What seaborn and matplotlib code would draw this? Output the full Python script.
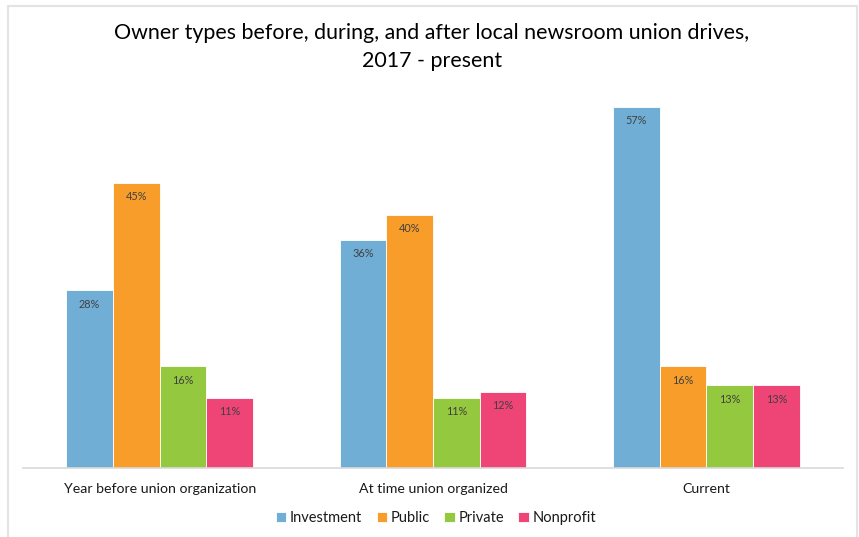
import matplotlib
matplotlib.use("Agg")
import matplotlib.pyplot as plt
import seaborn as sns
import pandas as pd
from matplotlib.lines import Line2D

categories = ["Year before union organization", "At time union organized", "Current"]
owner_types = ["Investment", "Public", "Private", "Nonprofit"]
investment = [28, 36, 57]
public = [45, 40, 16]
private = [16, 11, 13]
nonprofit = [11, 12, 13]
colors = ["#71AED6", "#F89D2A", "#94C83E", "#EF4476"]

rows = []
for name, vals in zip(owner_types, [investment, public, private, nonprofit]):
    for c, v in zip(categories, vals):
        rows.append({"category": c, "owner": name, "value": v})
df = pd.DataFrame(rows)

sns.set_theme(style="white")
plt.rcParams["font.family"] = ["Lato", "DejaVu Sans"]

fig = plt.figure(figsize=(8.59, 5.37), dpi=100)
ax = fig.add_axes([23/859, 69.5/537, 820/859, 379.5/537])

sns.barplot(data=df, x="category", y="value", hue="owner", order=categories,
            hue_order=owner_types, palette=colors, width=0.684, ax=ax,
            saturation=1, edgecolor="white", linewidth=0.6, errorbar=None)

ax.set_ylim(0, 60)
ax.set_yticks([])
ax.set_xlabel("")
ax.set_ylabel("")
for s in ["top", "right", "left"]:
    ax.spines[s].set_visible(False)
ax.spines["bottom"].set_color("#D9D9D9")
ax.spines["bottom"].set_linewidth(1.2)
ax.tick_params(axis="x", length=0, pad=11, labelsize=10.2, colors="#1a1a1a")

for cont in ax.containers:
    for bar in cont:
        h = bar.get_height()
        ax.annotate(f"{h:.0f}%", (bar.get_x() + bar.get_width()/2, h),
                    xytext=(0, -10), textcoords="offset points",
                    ha="center", va="center", fontsize=7.8, color="#404040")

sns.move_legend(ax, "center", bbox_to_anchor=(436/859, 19/537),
                bbox_transform=fig.transFigure, ncol=4, frameon=False,
                title=None, fontsize=10.5, handlelength=0.7, handleheight=0.7,
                handletextpad=0.25, columnspacing=1.0)
for t in ax.get_legend().get_texts():
    t.set_color("#1a1a1a")

fig.text(432/859, 1 - 33/537, "Owner types before, during, and after local newsroom union drives,",
         ha="center", va="center", fontsize=15.4, color="#000000")
fig.text(432/859, 1 - 61/537, "2017 - present",
         ha="center", va="center", fontsize=15.4, color="#000000")

# outer chart border (left, top, right)
bc = "#E3E3E3"
fig.add_artist(Line2D([7.5/859, 7.5/859], [0, 1 - 5.5/537], transform=fig.transFigure, color=bc, lw=1.5))
fig.add_artist(Line2D([7.5/859, 856.5/859], [1 - 5.5/537, 1 - 5.5/537], transform=fig.transFigure, color=bc, lw=1.5))
fig.add_artist(Line2D([856.5/859, 856.5/859], [0, 1 - 5.5/537], transform=fig.transFigure, color=bc, lw=1.5))

fig.savefig("out.png", dpi=100)
